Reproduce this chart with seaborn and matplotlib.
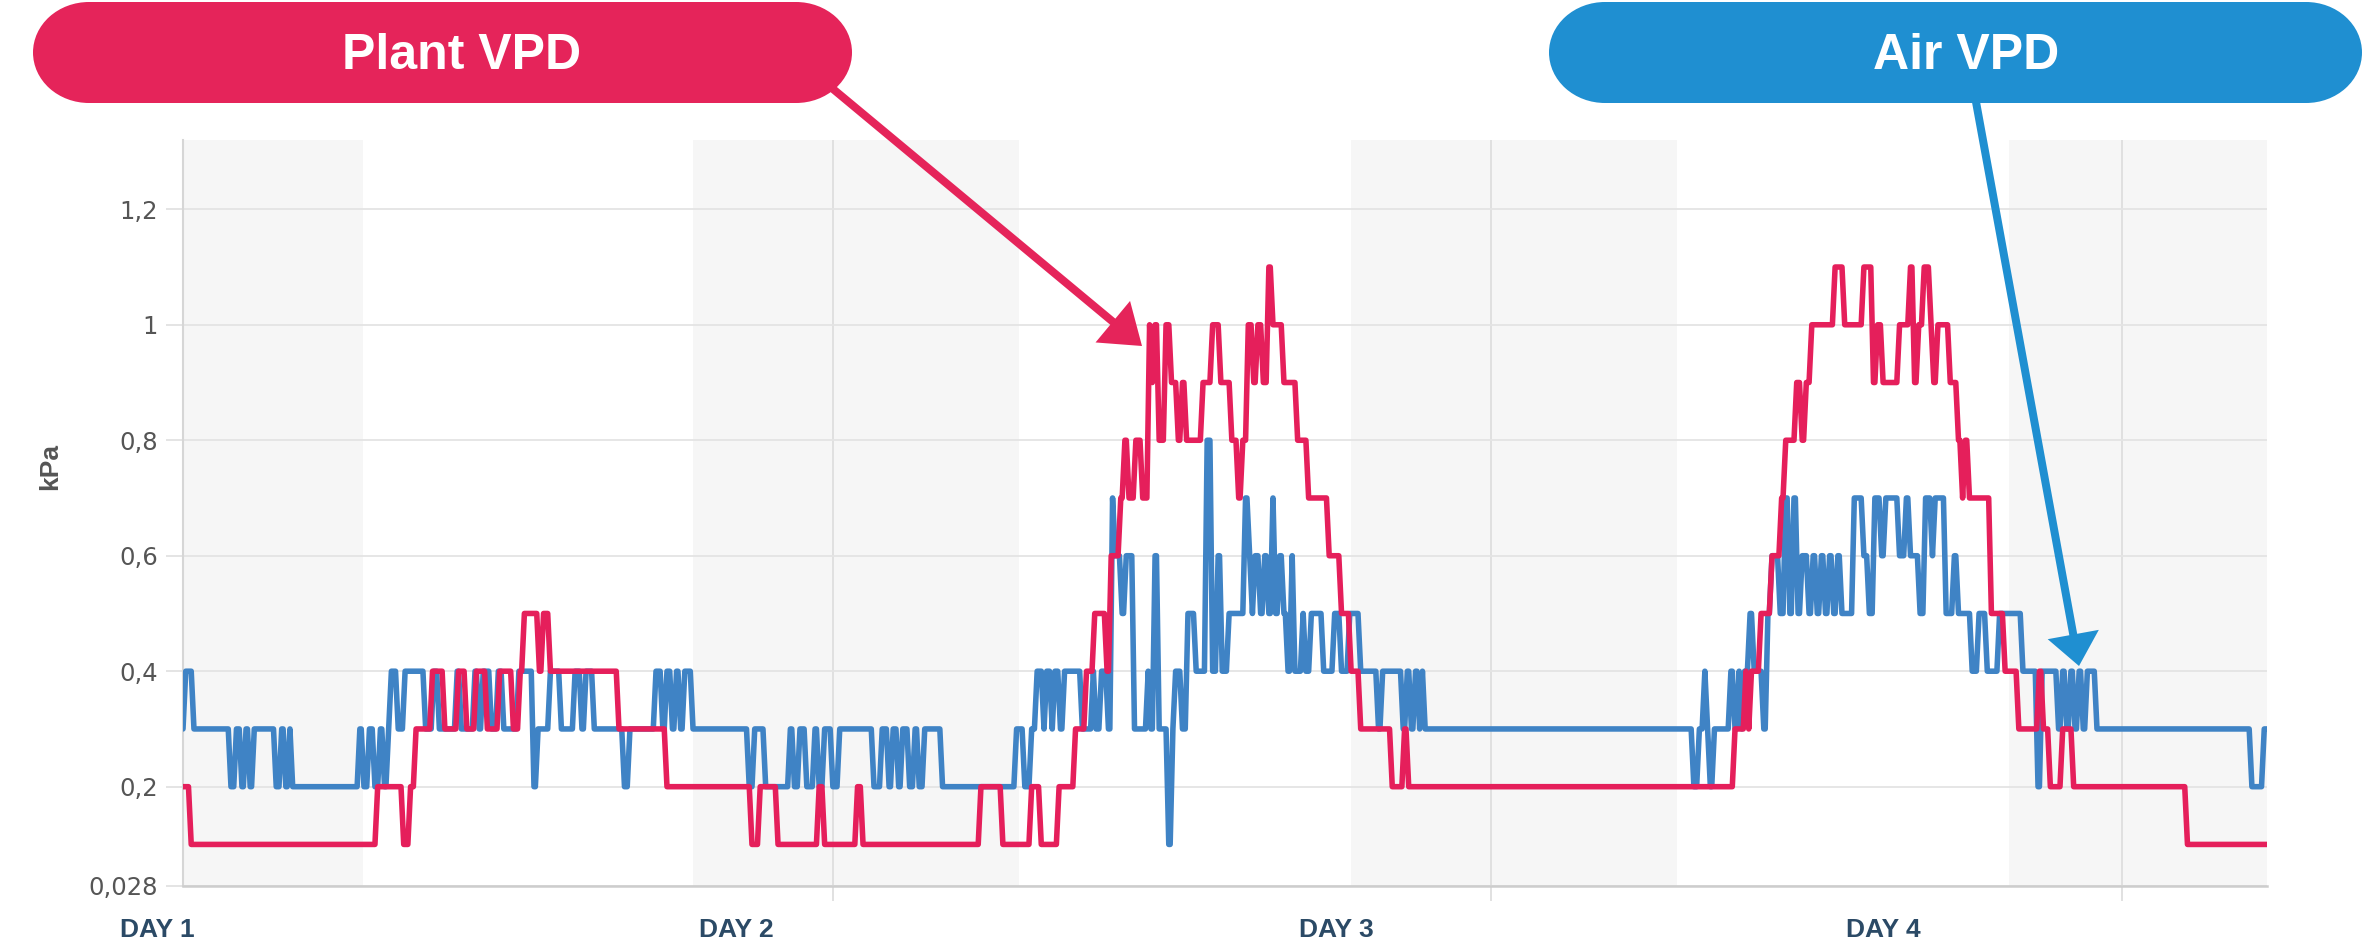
import numpy as np
import pandas as pd
import matplotlib
matplotlib.use("Agg")
import matplotlib.pyplot as plt
from matplotlib.patches import Rectangle, Ellipse, FancyArrow
from matplotlib.transforms import blended_transform_factory
import seaborn as sns

# ---------------- data: run start time (hours) and level (kPa) ----------------
plant_t = [0.0, 0.3, 7.1, 8.05, 8.3, 8.5, 9.1, 9.55, 10.05, 10.35, 10.7, 11.1, 11.55, 12.05, 12.3,
           12.45, 13.0, 13.15, 13.4, 15.9, 17.65, 20.75, 21.05, 21.7, 23.2, 23.4, 24.6, 24.8, 29.1,
           29.9, 30.95, 31.3, 31.95, 32.55, 32.95, 33.25, 33.7, 33.85, 34.2, 34.35, 34.5, 34.75,
           35.0, 35.25, 35.35, 35.45, 35.6, 35.85, 36.05, 36.3, 36.45, 36.6, 37.2, 37.55, 37.85,
           38.25, 38.5, 38.65, 38.85, 39.05, 39.2, 39.4, 39.6, 39.75, 40.15, 40.65, 41.05, 41.8,
           42.25, 42.6, 42.95, 44.1, 44.55, 44.7, 56.6, 57.0, 57.1, 57.2, 57.55, 57.95, 58.3,
           58.45, 58.85, 59.05, 59.2, 59.4, 60.25, 60.6, 61.3, 61.65, 61.8, 62.0, 62.6, 63.0,
           63.15, 63.3, 63.5, 63.75, 63.85, 64.0, 64.45, 64.75, 64.9, 65.0, 65.15, 65.95, 66.45,
           66.95, 67.7, 67.85, 68.1, 68.55, 68.95, 73.1]
plant_v = [0.2, 0.1, 0.2, 0.1, 0.2, 0.3, 0.4, 0.3, 0.4, 0.3, 0.4, 0.3, 0.4, 0.3, 0.4,
           0.5, 0.4, 0.5, 0.4, 0.3, 0.2, 0.1, 0.2, 0.1, 0.2, 0.1, 0.2, 0.1, 0.2,
           0.1, 0.2, 0.1, 0.2, 0.3, 0.4, 0.5, 0.4, 0.6, 0.7, 0.8, 0.7, 0.8,
           0.7, 1.0, 0.9, 1.0, 0.8, 1.0, 0.9, 0.8, 0.9, 0.8, 0.9, 1.0, 0.9,
           0.8, 0.7, 0.8, 1.0, 0.9, 1.0, 0.9, 1.1, 1.0, 0.9, 0.8, 0.7, 0.6,
           0.5, 0.4, 0.3, 0.2, 0.3, 0.2, 0.3, 0.4, 0.3, 0.4, 0.5, 0.6, 0.7,
           0.8, 0.9, 0.8, 0.9, 1.0, 1.1, 1.0, 1.1, 0.9, 1.0, 0.9, 1.0, 1.1,
           0.9, 1.0, 1.1, 1.0, 0.9, 1.0, 0.9, 0.8, 0.7, 0.8, 0.7, 0.5, 0.4,
           0.3, 0.4, 0.3, 0.2, 0.3, 0.2, 0.1]

air_t = [0.0, 0.1, 0.4, 1.75, 1.95, 2.15, 2.3, 2.45, 2.6, 3.4, 3.6, 3.75, 3.9, 4.0, 6.45, 6.6,
         6.8, 7.0, 7.2, 7.35, 7.5, 7.6, 7.85, 8.1, 8.85, 9.15, 9.35, 10.0, 10.15, 10.65, 10.8,
         10.95, 11.25, 11.5, 11.7, 12.25, 12.8, 12.95, 13.4, 13.8, 14.3, 14.55, 14.7, 15.0, 16.1,
         16.3, 17.25, 17.5, 17.65, 17.85, 18.0, 18.15, 18.3, 18.6, 20.65, 20.85, 21.25, 22.15,
         22.3, 22.5, 22.75, 23.05, 23.2, 23.4, 23.7, 23.95, 25.2, 25.5, 25.75, 25.9, 26.1, 26.25,
         26.5, 26.7, 26.85, 27.05, 27.7, 30.4, 30.7, 30.95, 31.15, 31.4, 31.5, 31.7, 31.8, 32.0,
         32.15, 32.8, 33.2, 33.3, 33.5, 33.75, 33.9, 34.0, 34.25, 34.4, 34.7, 35.2, 35.3, 35.45,
         35.6, 35.95, 36.1, 36.2, 36.45, 36.65, 36.95, 37.35, 37.55, 37.75, 37.9, 38.15, 38.75,
         38.9, 39.0, 39.1, 39.3, 39.45, 39.6, 39.75, 39.85, 40.0, 40.15, 40.3, 40.45, 40.55,
         40.85, 40.95, 41.15, 41.6, 42.0, 42.25, 42.55, 42.95, 43.6, 43.75, 44.5, 44.65, 44.8,
         44.95, 45.1, 45.2, 45.3, 55.1, 55.3, 55.5, 55.6, 55.7, 55.85, 56.45, 56.6, 56.75, 56.85,
         56.95, 57.15, 57.3, 57.65, 57.8, 57.95, 58.25, 58.45, 58.6, 58.75, 58.9, 59.05, 59.3,
         59.45, 59.6, 59.75, 59.9, 60.05, 60.2, 60.35, 60.5, 60.95, 61.3, 61.5, 61.7, 61.95,
         62.1, 62.6, 62.85, 63.0, 63.35, 63.55, 63.8, 63.9, 64.3, 64.6, 64.75, 65.25, 65.5, 65.8,
         66.25, 67.1, 67.65, 67.8, 68.4, 68.55, 68.7, 68.85, 69.0, 69.15, 69.3, 69.45, 69.8,
         75.45, 75.9]
air_v = [0.3, 0.4, 0.3, 0.2, 0.3, 0.2, 0.3, 0.2, 0.3, 0.2, 0.3, 0.2, 0.3, 0.2, 0.3, 0.2,
         0.3, 0.2, 0.3, 0.2, 0.3, 0.4, 0.3, 0.4, 0.3, 0.4, 0.3, 0.4, 0.3, 0.4, 0.3,
         0.4, 0.3, 0.4, 0.3, 0.4, 0.2, 0.3, 0.4, 0.3, 0.4, 0.3, 0.4, 0.3, 0.2,
         0.3, 0.4, 0.3, 0.4, 0.3, 0.4, 0.3, 0.4, 0.3, 0.2, 0.3, 0.2, 0.3,
         0.2, 0.3, 0.2, 0.3, 0.2, 0.3, 0.2, 0.3, 0.2, 0.3, 0.2, 0.3, 0.2, 0.3,
         0.2, 0.3, 0.2, 0.3, 0.2, 0.3, 0.2, 0.3, 0.4, 0.3, 0.4, 0.3, 0.4, 0.3,
         0.4, 0.3, 0.4, 0.3, 0.4, 0.3, 0.7, 0.6, 0.5, 0.6, 0.3, 0.4, 0.3, 0.6,
         0.3, 0.1, 0.3, 0.4, 0.3, 0.5, 0.4, 0.8, 0.4, 0.6, 0.4, 0.5, 0.7,
         0.6, 0.5, 0.6, 0.5, 0.6, 0.5, 0.7, 0.5, 0.6, 0.5, 0.4, 0.6, 0.4,
         0.5, 0.4, 0.5, 0.4, 0.5, 0.4, 0.5, 0.4, 0.3, 0.4, 0.3, 0.4, 0.3,
         0.4, 0.3, 0.4, 0.3, 0.2, 0.3, 0.4, 0.3, 0.2, 0.3, 0.4, 0.3, 0.4, 0.3,
         0.4, 0.5, 0.4, 0.3, 0.5, 0.6, 0.5, 0.7, 0.5, 0.7, 0.5, 0.6, 0.5,
         0.6, 0.5, 0.6, 0.5, 0.6, 0.5, 0.6, 0.5, 0.7, 0.6, 0.5, 0.7, 0.6,
         0.7, 0.6, 0.7, 0.6, 0.5, 0.7, 0.6, 0.7, 0.5, 0.6, 0.5, 0.4, 0.5, 0.4,
         0.5, 0.4, 0.2, 0.4, 0.3, 0.4, 0.3, 0.4, 0.3, 0.4, 0.3, 0.4, 0.3,
         0.2, 0.3]

t_end = 76.0
night_bands = [(0.0, 6.55), (18.6, 30.5), (42.6, 54.5), (66.6, 76.0)]
marker_lines = [23.7, 47.7, 70.7]
yticks = [0.028, 0.2, 0.4, 0.6, 0.8, 1.0, 1.2]
ytick_labels = ['0,028', '0,2', '0,4', '0,6', '0,8', '1', '1,2']
day_labels = ['DAY 1', 'DAY 2', 'DAY 3', 'DAY 4']
day_label_x = [-2.3, 18.8, 40.7, 60.65]
series_names = ['Plant VPD', 'Air VPD']

# ---------------- styling ----------------
RED_LINE = '#E51F5B'
BLUE_LINE = '#3F83C5'
RED_BOX = '#E5245A'
BLUE_BOX = '#1F8FD1'

sns.set_style('white')
plt.rcParams['font.family'] = ['DejaVu Sans']
COND = ['Liberation Sans Narrow', 'Liberation Sans', 'DejaVu Sans']
SANS = ['Liberation Sans', 'DejaVu Sans']

W, H = 2365, 940
fig = plt.figure(figsize=(W / 100, H / 100), dpi=100)
fig.patch.set_facecolor('white')

ax_l, ax_r, ax_t, ax_b = 183, 2267, 140, 886
ax = fig.add_axes([ax_l / W, 1 - ax_b / H, (ax_r - ax_l) / W, (ax_b - ax_t) / H])


def step_vertices(ts, vs, end, ramp=0.1):
    xs, ys = [], []
    bounds = list(ts[1:]) + [end]
    for t0, t1, v in zip(ts, bounds, vs):
        xs.append(t0)
        ys.append(v)
        hold = t1 - ramp if t1 < end else end
        if hold > t0:
            xs.append(hold)
            ys.append(v)
    return xs, ys


ax_x, ax_y = step_vertices(air_t, air_v, t_end)
pl_x, pl_y = step_vertices(plant_t, plant_v, t_end)
df_air = pd.DataFrame({'hours': ax_x, 'kPa': ax_y})
df_plant = pd.DataFrame({'hours': pl_x, 'kPa': pl_y})

for a, b in night_bands:
    ax.axvspan(a, b, color='#F6F6F6', zorder=0, lw=0)

sns.lineplot(data=df_air, x='hours', y='kPa', sort=False, estimator=None,
             color=BLUE_LINE, linewidth=4.0, ax=ax, zorder=3)
sns.lineplot(data=df_plant, x='hours', y='kPa', sort=False, estimator=None,
             color=RED_LINE, linewidth=4.0, ax=ax, zorder=4)

ax.set_xlim(0, t_end)
ax.set_ylim(0.028, 1.32)
ax.set_xlabel('')
ax.set_ylabel('')

ax.set_yticks(yticks)
ax.set_yticklabels(ytick_labels)
ax.set_xticks(marker_lines)
ax.set_xticklabels([''] * len(marker_lines))
ax.set_axisbelow(True)
ax.grid(True, axis='y', color='#E4E4E4', linewidth=1.3)
ax.grid(True, axis='x', color='#DEDEDE', linewidth=1.3)
ax.tick_params(axis='y', length=12, width=1.3, color='#E2E2E2', pad=6,
               labelsize=17.5, labelcolor='#555555', left=True)
ax.tick_params(axis='x', length=11, width=1.3, color='#DEDEDE', bottom=True)
for s in ['top', 'right']:
    ax.spines[s].set_visible(False)
ax.spines['left'].set_color('#D6D6D6')
ax.spines['left'].set_linewidth(1.5)
ax.spines['bottom'].set_color('#CDCDCD')
ax.spines['bottom'].set_linewidth(1.8)

# day labels under the axis
tr = blended_transform_factory(ax.transData, fig.transFigure)
for lab, xpos in zip(day_labels, day_label_x):
    ax.text(xpos, 3 / H, lab, transform=tr, ha='left', va='baseline',
            fontsize=19, fontweight='bold', color='#2B4A66', family=COND, clip_on=False)

fig.text(50 / W, 1 - 467 / H, 'kPa', rotation=90, ha='center', va='center',
         fontsize=19, fontweight='bold', color='#555555', family=SANS)

# ---------------- overlay: callout pills and arrows (pixel units) ----------------
ov = fig.add_axes([0, 0, 1, 1], zorder=10)
ov.set_xlim(0, W)
ov.set_ylim(H, 0)
ov.axis('off')
ov.patch.set_alpha(0)

# arrows (drawn beneath the pills)
ov.add_patch(FancyArrow(815, 74, 1142 - 815, 346 - 74, width=8, head_width=54,
                        head_length=38, length_includes_head=True,
                        color=RED_BOX, lw=0, zorder=1))
ov.add_patch(FancyArrow(1972, 80, 2079 - 1972, 666 - 80, width=8, head_width=52,
                        head_length=32, length_includes_head=True,
                        color=BLUE_BOX, lw=0, zorder=1))


def pill(x0, x1, y0, y1, color, rx=56):
    h = y1 - y0
    yc = (y0 + y1) / 2
    ov.add_patch(Rectangle((x0 + rx, y0), (x1 - x0) - 2 * rx, h, fc=color, ec='none', zorder=2))
    ov.add_patch(Ellipse((x0 + rx, yc), 2 * rx, h, fc=color, ec='none', zorder=2))
    ov.add_patch(Ellipse((x1 - rx, yc), 2 * rx, h, fc=color, ec='none', zorder=2))


pill(33, 852, 2, 103, RED_BOX)
pill(1549, 2362, 2, 103, BLUE_BOX)
ov.text(462, 69, series_names[0], ha='center', va='baseline', color='white',
        fontsize=36, fontweight='bold', family=COND, zorder=3)
ov.text(1966, 69, series_names[1], ha='center', va='baseline', color='white',
        fontsize=36, fontweight='bold', family=COND, zorder=3)

fig.savefig('out.png', dpi=100, facecolor='white')
